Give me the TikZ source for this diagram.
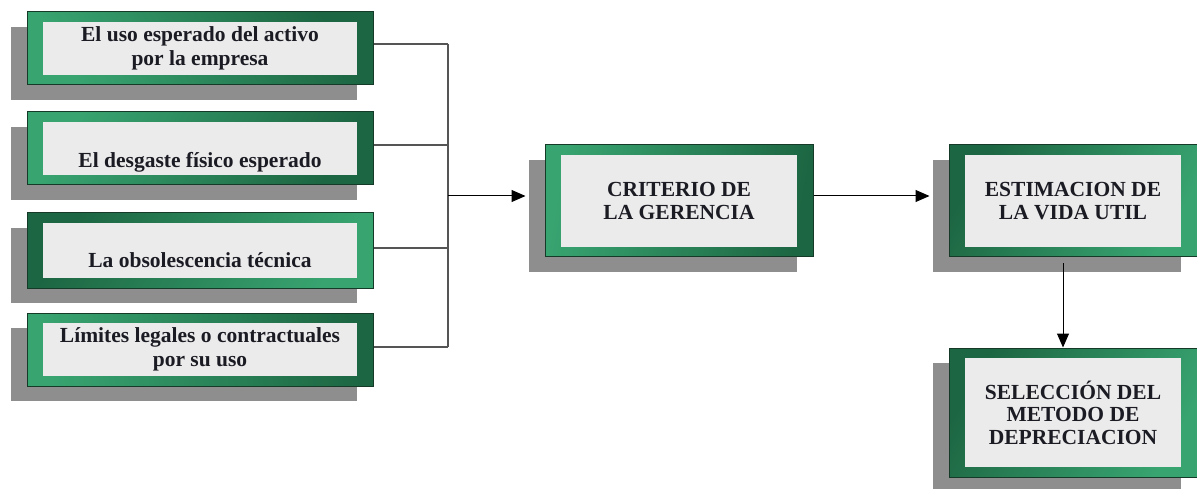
\documentclass[tikz,border=0pt]{standalone}
\usepackage{fontspec}
\setmainfont{Liberation Serif}
\usetikzlibrary{shadows,arrows.meta}
\definecolor{gLight}{HTML}{38A470}
\definecolor{gDark}{HTML}{1D6643}
\definecolor{gEdge}{HTML}{163A28}
\definecolor{panel}{HTML}{EBEBEB}
\definecolor{shadowgray}{HTML}{8E8E8E}
\definecolor{linegray}{HTML}{555555}
\definecolor{ink}{HTML}{1B1B24}
\begin{document}
\begin{tikzpicture}[x=1pt,y=-1pt,
  box/.style={draw=gEdge, line width=1pt, inner sep=0pt, align=center,
    font=\bfseries\fontsize{21.5}{24}\selectfont, text=ink,
    drop shadow={shadow xshift=-16pt, shadow yshift=-15pt, fill=shadowgray, opacity=1},
    left color=gLight, right color=gDark,
    path picture={\fill[panel] ([shift={(16pt,-10pt)}]path picture bounding box.north west) rectangle ([shift={(-16pt,10pt)}]path picture bounding box.south east);}},
  capsbox/.style={box, font=\bfseries\fontsize{21.5}{22.5}\selectfont},
  bus/.style={draw=linegray, line width=1.3pt},
  arrow/.style={draw=black, line width=1pt, -{Triangle[length=14pt,width=12pt]}}]
\useasboundingbox (0,0) rectangle (1197,489);

\node[box, minimum width=346pt, minimum height=73pt, shading angle=120] (b1) at (200,48.5)
  {El uso esperado del activo\\por la empresa};
\node[box, minimum width=346pt, minimum height=73pt, shading angle=60,
  text height=39pt, text depth=0pt] (b2) at (200,148.5)
  {El desgaste físico esperado};
\node[box, minimum width=346pt, minimum height=75pt, shading angle=240,
  text height=35pt, text depth=0pt] (b3) at (200,250.5)
  {La obsolescencia técnica};
\node[box, minimum width=346pt, minimum height=73pt, shading angle=100] (b4) at (200,349.5)
  {Límites legales o contractuales\\por su uso};

\node[capsbox, minimum width=268pt, minimum height=112pt, shading angle=80] (crit) at (679,201)
  {CRITERIO DE\\LA GERENCIA};
\node[capsbox, minimum width=248pt, minimum height=112pt, shading angle=240] (est) at (1073,201)
  {ESTIMACION DE\\LA VIDA UTIL};
\node[capsbox, minimum width=248pt, minimum height=129pt, shading angle=240] (sel) at (1073,412.5)
  {SELECCIÓN DEL\\METODO DE\\DEPRECIACION};

\coordinate (j1) at (448,44);
\coordinate (j2) at (448,145);
\coordinate (j3) at (448,248);
\coordinate (j4) at (448,347);
\coordinate (jm) at (448,196);
\coordinate (critin) at ([xshift=-19pt]crit.west);
\coordinate (critout) at ([yshift=5pt]crit.east);
\coordinate (estin) at ([xshift=-19pt]est.west);
\coordinate (estout) at ([xshift=-10pt,yshift=-6pt]est.south);
\coordinate (selin) at ([xshift=-10pt]sel.north);

\draw[bus] (b1.east |- j1) -- (j1);
\draw[bus] (b2.east |- j2) -- (j2);
\draw[bus] (b3.east |- j3) -- (j3);
\draw[bus] (b4.east |- j4) -- (j4);
\draw[bus] (j1) -- (j4);
\draw[arrow] (jm) -- (jm -| critin);
\draw[arrow] (critout) -- (critout -| estin);
\draw[arrow] (estout) -- (selin);
\end{tikzpicture}
\end{document}
